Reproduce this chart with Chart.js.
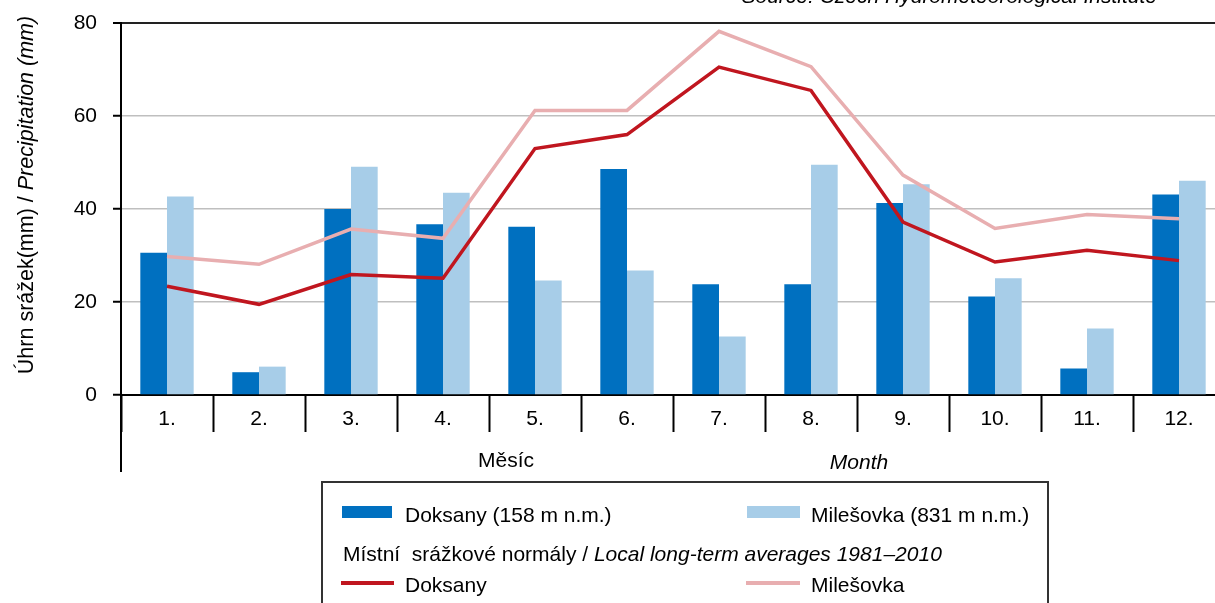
<!DOCTYPE html>
<html>
<head>
<meta charset="utf-8">
<script src="https://cdn.jsdelivr.net/npm/chart.js@4/dist/chart.umd.min.js"></script>
<style>
  html, body { margin: 0; padding: 0; background: #fff; overflow: hidden; }
  #chart { position: absolute; left: 0; top: 0; }
</style>
</head>
<body>
<canvas id="chart" width="1226" height="603"></canvas>
<script>
// month labels on the x axis
const months = ['1.', '2.', '3.', '4.', '5.', '6.', '7.', '8.', '9.', '10.', '11.', '12.']
// monthly precipitation (mm), bars
const doksany = [30.6, 4.9, 40.0, 36.7, 36.2, 48.6, 23.8, 23.8, 41.3, 21.2, 5.7, 43.1]
const milesovka = [42.7, 6.1, 49.1, 43.5, 24.6, 26.8, 12.6, 49.5, 45.3, 25.1, 14.3, 46.1]
// long-term averages 1981-2010, lines
const doksanyNormal = [23.4, 19.5, 25.9, 25.1, 53.0, 56.0, 70.5, 65.5, 37.2, 28.6, 31.1, 28.9]
const milesovkaNormal = [29.8, 28.1, 35.7, 33.7, 61.2, 61.2, 78.2, 70.6, 47.3, 35.8, 38.8, 37.9]
// y axis ticks
const yTicks = [0, 20, 40, 60, 80]

const FONT = "'Liberation Sans', Arial, sans-serif"

//draw a line of text where some parts are italic
function drawParts(ctx, parts, x, y, size, align) {
	let total = 0
	parts.forEach(p => {
		ctx.font = (p.italic ? 'italic ' : '') + size + 'px ' + FONT
		total += ctx.measureText(p.text).width
	})
	let cx = align === 'center' ? x - total / 2 : align === 'right' ? x - total : x
	ctx.textAlign = 'left'
	parts.forEach(p => {
		ctx.font = (p.italic ? 'italic ' : '') + size + 'px ' + FONT
		ctx.fillText(p.text, cx, y)
		cx += ctx.measureText(p.text).width
	})
}

//texts, legend box and the extended axis line
const annotations = {
	id: 'annotations',
	afterDraw(chart) {
		const ctx = chart.ctx
		const area = chart.chartArea
		const ds = chart.data.datasets
		ctx.save()
		ctx.fillStyle = '#000'
		ctx.textBaseline = 'alphabetic'

		//source line, cut at the top
		drawParts(ctx, [{ text: 'Source: Czech Hydrometeorological Institute', italic: true }], 1157, 3, 21, 'right')

		//y axis title
		ctx.save()
		ctx.translate(33, 195)
		ctx.rotate(-Math.PI / 2)
		drawParts(ctx, [{ text: 'Úhrn srážek(mm) / ' }, { text: 'Precipitation (mm)', italic: true }], 0, 0, 21.5, 'center')
		ctx.restore()

		//y axis continues below the category labels
		ctx.strokeStyle = '#000'
		ctx.lineWidth = 2
		ctx.beginPath()
		ctx.moveTo(area.left, area.bottom)
		ctx.lineTo(area.left, 472)
		ctx.stroke()

		//x axis titles
		drawParts(ctx, [{ text: 'Měsíc' }], 506, 467, 21, 'center')
		drawParts(ctx, [{ text: 'Month', italic: true }], 859, 469, 21, 'center')

		//legend box
		ctx.strokeStyle = '#333'
		ctx.lineWidth = 2
		ctx.strokeRect(322, 482, 726, 140)

		//bar entries
		ctx.fillStyle = ds[2].backgroundColor
		ctx.fillRect(342, 506, 50, 12)
		ctx.fillStyle = ds[3].backgroundColor
		ctx.fillRect(747, 506, 53, 12)
		ctx.fillStyle = '#000'
		drawParts(ctx, [{ text: ds[2].label }], 405, 522, 21, 'left')
		drawParts(ctx, [{ text: ds[3].label }], 811, 522, 21, 'left')

		//heading for the normals
		drawParts(ctx, [{ text: 'Místní  srážkové normály / ' }, { text: 'Local long-term averages 1981–2010', italic: true }], 343, 561, 21, 'left')

		//line entries
		ctx.lineWidth = 4
		ctx.strokeStyle = ds[0].borderColor
		ctx.beginPath(); ctx.moveTo(341, 583); ctx.lineTo(394, 583); ctx.stroke()
		ctx.strokeStyle = ds[1].borderColor
		ctx.beginPath(); ctx.moveTo(746, 583); ctx.lineTo(800, 583); ctx.stroke()
		drawParts(ctx, [{ text: ds[0].label }], 405, 592, 21, 'left')
		drawParts(ctx, [{ text: ds[1].label }], 811, 592, 21, 'left')
		ctx.restore()
	}
}

const graph = document.getElementById('chart')

const myChart = new Chart(graph, {
	type: 'bar',
	data: {
		labels: months,
		datasets: [{
			type: 'line',
			label: 'Doksany',
			data: doksanyNormal,
			borderColor: '#C0161F',
			borderWidth: 3.5,
			pointRadius: 0,
			tension: 0,
			order: 0
		}, {
			type: 'line',
			label: 'Milešovka',
			data: milesovkaNormal,
			borderColor: '#E8AEB0',
			borderWidth: 3.5,
			pointRadius: 0,
			tension: 0,
			order: 0
		}, {
			label: 'Doksany (158 m n.m.)',
			data: doksany,
			backgroundColor: '#0070C0',
			categoryPercentage: 0.58,
			barPercentage: 1.0,
			order: 1
		}, {
			label: 'Milešovka (831 m n.m.)',
			data: milesovka,
			backgroundColor: '#A7CDE8',
			categoryPercentage: 0.58,
			barPercentage: 1.0,
			order: 1
		}]
	},
	options: {
		responsive: false,
		animation: false,
		devicePixelRatio: 1,
		layout: { padding: { top: 23, right: 1, left: 0, bottom: 0 } },
		plugins: {
			legend: { display: false },
			tooltip: { enabled: false }
		},
		scales: {
			x: {
				offset: true,
				grid: {
					offset: true,
					drawOnChartArea: false,
					tickLength: 37,
					tickColor: '#000',
					tickWidth: 2
				},
				border: { color: '#000', width: 2 },
				ticks: {
					color: '#000',
					font: { family: FONT, size: 21 },
					padding: -25,
					maxRotation: 0
				},
				afterFit(scale) { scale.height = 208 }
			},
			y: {
				min: 0,
				max: 80,
				afterBuildTicks(scale) {
					scale.ticks = yTicks.map(v => ({ value: v }))
				},
				grid: {
					color: ctx => ctx.tick && ctx.tick.value === 80 ? '#222' : '#BFBFBF',
					lineWidth: ctx => ctx.tick && ctx.tick.value === 80 ? 2 : 1.5,
					tickLength: 8,
					tickColor: '#000',
					tickWidth: 2
				},
				border: { color: '#000', width: 2 },
				ticks: {
					color: '#000',
					font: { family: FONT, size: 21 },
					padding: 16
				},
				afterFit(scale) {
					scale.width = 121
					scale.paddingTop = 0
					scale.paddingBottom = 0
				}
			}
		}
	},
	plugins: [annotations]
})
</script>
</body>
</html>
